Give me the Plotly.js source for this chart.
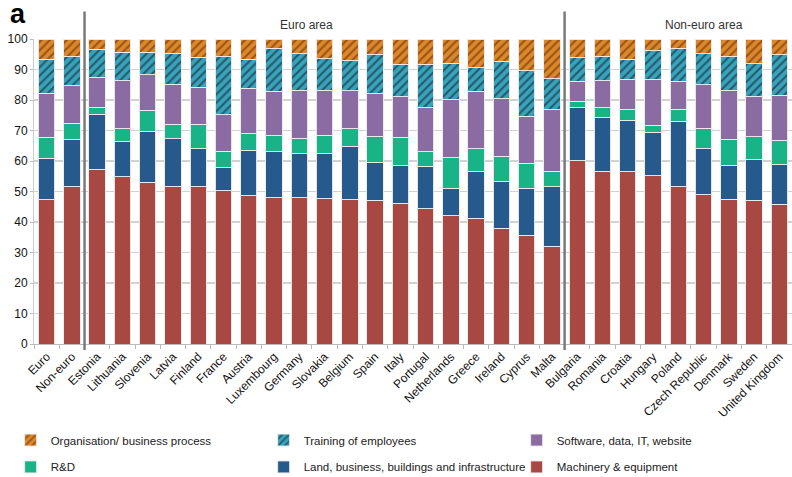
<!DOCTYPE html>
<html>
<head>
<meta charset="utf-8">
<script src="https://cdn.plot.ly/plotly-3.0.1.min.js"></script>
<style>html,body{margin:0;padding:0;background:#fff;}#chart{width:792px;height:477px;}</style>
</head>
<body>
<div id="chart"></div>
<script>
const countries = ["Euro","Non-euro","Estonia","Lithuania","Slovenia","Latvia","Finland","France","Austria","Luxembourg","Germany","Slovakia","Belgium","Spain","Italy","Portugal","Netherlands","Greece","Ireland","Cyprus","Malta","Bulgaria","Romania","Croatia","Hungary","Poland","Czech Republic","Denmark","Sweden","United Kingdom"];

const machinery = [47.3,51.6,57.2,54.8,53.1,51.6,51.6,50.3,48.6,48.0,48.0,47.7,47.3,47.1,46.2,44.3,42.1,41.2,38.0,35.7,32.0,60.1,56.7,56.4,55.2,51.5,49.0,47.5,47.1,45.9];
const land      = [13.6,15.4,18.1,11.5,16.7,15.7,12.4,7.6,14.9,15.0,14.4,14.8,17.5,12.5,12.4,14.0,9.0,15.2,15.3,15.4,19.5,17.5,17.6,16.9,14.2,21.5,15.0,11.1,13.3,12.9];
const rnd       = [6.9,5.3,2.3,4.2,6.8,4.8,8.1,5.3,5.5,5.3,5.1,5.9,5.8,8.5,9.2,4.8,9.9,7.6,8.3,8.2,5.1,2.0,3.1,3.5,2.3,4.0,6.8,8.6,7.5,8.0];
const software  = [14.4,12.4,9.8,15.8,11.7,13.1,12.1,12.0,14.9,14.5,15.7,14.8,12.4,14.0,13.2,14.3,19.1,18.8,18.8,15.3,20.2,6.5,8.9,9.9,15.0,9.1,14.2,16.0,13.3,14.7];
const training  = [11.2,9.7,9.2,9.3,7.3,10.2,9.8,19.1,9.3,14.2,11.9,10.4,9.9,12.8,10.8,14.4,12.0,7.7,12.3,15.0,10.1,7.7,8.0,6.7,9.5,10.9,10.1,11.1,10.7,13.4];
const org       = [6.6,5.6,3.4,4.4,4.4,4.6,6.0,5.7,6.8,3.0,4.9,6.4,7.1,5.1,8.2,8.2,7.9,9.5,7.3,10.4,13.1,6.2,5.7,6.6,3.8,3.0,4.9,5.7,8.1,5.1];

const seriesNames = ["Machinery & equipment","Land, business, buildings and infrastructure","R&D","Software, data, IT, website","Training of employees","Organisation/ business process"];
const groupLabels = ["Euro area","Non-euro area"];

const outline = {color:"rgba(235,235,235,0.95)", width:1};
function bar(name, y, color, legend, pattern) {
  const m = {color: color, line: outline};
  if (pattern) m.pattern = pattern;
  return {type:"bar", name:name, x:countries, y:y, marker:m, legend:legend, hoverinfo:"x+y+name"};
}

const traces = [
  bar(seriesNames[0], machinery, "#a84843", "legend2"),
  bar(seriesNames[1], land, "#275a8c", "legend2"),
  bar(seriesNames[2], rnd, "#18b386", "legend2"),
  bar(seriesNames[3], software, "#8a6ca2", "legend"),
  bar(seriesNames[4], training, "#3aa2ba", "legend", {shape:"/", bgcolor:"#3aa2ba", fgcolor:"#215a6b", size:6, solidity:0.35, fillmode:"replace"}),
  bar(seriesNames[5], org, "#db882e", "legend", {shape:"/", bgcolor:"#db882e", fgcolor:"#9b5410", size:6, solidity:0.35, fillmode:"replace"})
];

const legFont = {family:"Liberation Sans, Arial, sans-serif", size:11.5, color:"#222"};
const legBase = {orientation:"h", traceorder:"reversed", font:legFont, entrywidth:208, entrywidthmode:"pixels", itemwidth:30, xanchor:"left", yanchor:"middle", bgcolor:"rgba(0,0,0,0)"};

const layout = {
  width:792, height:477,
  margin:{l:34, r:0, t:39, b:133, autoexpand:false},
  paper_bgcolor:"#fff", plot_bgcolor:"#fff",
  barmode:"stack", bargap:0.35,
  font:{family:"Liberation Sans, Arial, sans-serif", color:"#111"},
  xaxis:{type:"category", tickangle:-45, tickson:"boundaries", ticks:"outside", ticklen:4, tickcolor:"#bbb",
         showline:true, linecolor:"#bbb", linewidth:1, showgrid:false, tickfont:{size:12, color:"#111"},
         range:[-0.5, countries.length-0.5], fixedrange:true},
  yaxis:{range:[0,100], dtick:10, showgrid:true, gridcolor:"#d2d2d2", gridwidth:1.5, ticks:"outside", ticklen:3,
         tickcolor:"#bbb", showline:true, linecolor:"#ccc", zeroline:false, tickfont:{size:12, color:"#111"}, fixedrange:true},
  showlegend:true,
  legend:Object.assign({}, legBase, {x:-0.0308, y:-0.315}),
  legend2:Object.assign({}, legBase, {x:-0.0308, y:-0.403}),
  shapes:[
    {type:"line", xref:"x", yref:"paper", x0:1.5, x1:1.5, y0:-0.02, y1:1.09, line:{color:"#7a7a7a", width:2.5}},
    {type:"line", xref:"x", yref:"paper", x0:20.5, x1:20.5, y0:-0.02, y1:1.09, line:{color:"#7a7a7a", width:2.5}}
  ],
  annotations:[
    {text:groupLabels[0], xref:"paper", yref:"paper", x:0.359, y:1.046, showarrow:false, xanchor:"center", yanchor:"middle", font:{size:12, color:"#333"}},
    {text:groupLabels[1], xref:"paper", yref:"paper", x:0.884, y:1.046, showarrow:false, xanchor:"center", yanchor:"middle", font:{size:12, color:"#333"}},
    {text:"<b>a</b>", xref:"paper", yref:"paper", x:-0.034, y:1.083, showarrow:false, xanchor:"left", yanchor:"middle", font:{size:27, color:"#000", family:"Liberation Sans, Arial, sans-serif"}}
  ]
};

Plotly.newPlot("chart", traces, layout, {displayModeBar:false, staticPlot:true});
</script>
</body>
</html>
